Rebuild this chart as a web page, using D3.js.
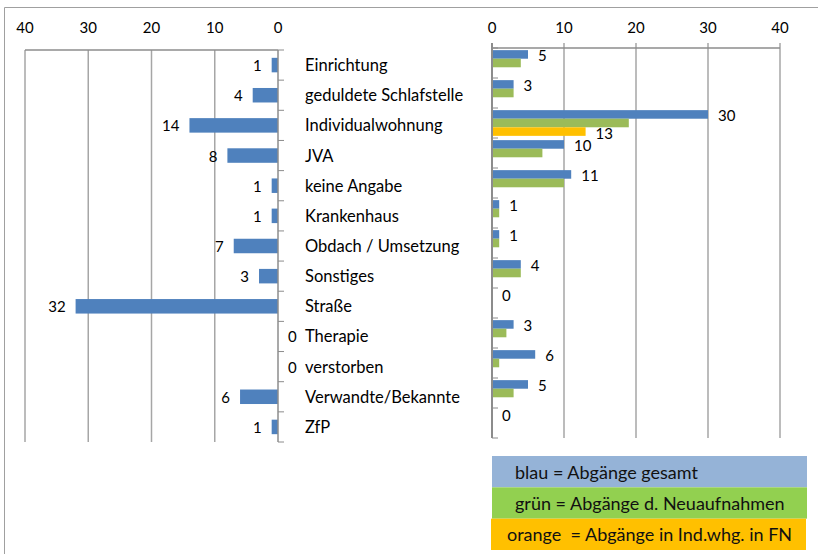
<!DOCTYPE html>
<html lang="de">
<head>
    <meta charset="UTF-8">
    <title>Abgänge</title>
    <script src="https://d3js.org/d3.v7.min.js"></script>
    <style>
        body { margin: 0; background: #fff; }
        svg { display: block; font-family: Lato, "Open Sans", sans-serif; }
    </style>
</head>
<body>
    <svg id="chart" width="818" height="554"></svg>
    <script>
        const categories = [
            "Einrichtung", "geduldete Schlafstelle", "Individualwohnung", "JVA",
            "keine Angabe", "Krankenhaus", "Obdach / Umsetzung", "Sonstiges",
            "Straße", "Therapie", "verstorben", "Verwandte/Bekannte", "ZfP"
        ];
        const leftValues = [1, 4, 14, 8, 1, 1, 7, 3, 32, 0, 0, 6, 1];
        const blauValues = [5, 3, 30, 10, 11, 1, 1, 4, 0, 3, 6, 5, 0];
        const gruenValues = [4, 3, 19, 7, 10, 1, 1, 4, 0, 2, 1, 3, 0];
        const orangeValues = [null, null, 13, null, null, null, null, null, null, null, null, null, null];
        const xTicks = [0, 10, 20, 30, 40];
        const legendLabels = [
            "blau = Abgänge gesamt",
            "grün = Abgänge d. Neuaufnahmen",
            "orange  = Abgänge in Ind.whg. in FN"
        ];

        const colors = { blau: "#4F81BD", gruen: "#9BBB59", orange: "#FFC000" };
        const legendColors = ["#95B3D7", "#92D050", "#FFC000"];
        const gridColor = "#A6A6A6";
        const axisColor = "#8C8C8C";

        const svg = d3.select("#chart");

        // outer frame (top + left edge)
        svg.append("path")
            .attr("d", "M4.5,554 V7.5 H818")
            .attr("fill", "none").attr("stroke", "#A0A0A0").attr("stroke-width", 1);

        // ---------- left chart (reversed axis) ----------
        const xL = d3.scaleLinear().domain([0, 40]).range([278, 25]);
        const yL = d3.scaleBand().domain(categories).range([50, 442]);
        const gL = svg.append("g");

        gL.selectAll(".gridL").data(xTicks.filter(d => d > 0)).join("line")
            .attr("x1", d => xL(d)).attr("x2", d => xL(d))
            .attr("y1", 50).attr("y2", 442)
            .attr("stroke", gridColor).attr("stroke-width", 1.5);
        gL.append("line").attr("x1", 25).attr("x2", 278).attr("y1", 50).attr("y2", 50)
            .attr("stroke", axisColor).attr("stroke-width", 1.5);
        gL.selectAll(".tickL").data(xTicks).join("text")
            .attr("x", d => xL(d)).attr("y", 27)
            .attr("text-anchor", "middle").attr("dominant-baseline", "central")
            .attr("font-size", 15).text(d => d);

        const barH = 14.5;
        gL.selectAll(".barL").data(categories).join("rect")
            .attr("x", (d, i) => xL(leftValues[i]))
            .attr("y", d => yL(d) + yL.bandwidth() / 2 - barH / 2)
            .attr("width", (d, i) => xL(0) - xL(leftValues[i]))
            .attr("height", barH)
            .attr("fill", colors.blau);

        // vertical axis with outward ticks
        gL.append("line").attr("x1", 278).attr("x2", 278).attr("y1", 50).attr("y2", 442)
            .attr("stroke", axisColor).attr("stroke-width", 1.5);
        gL.selectAll(".yTickL").data(d3.range(categories.length + 1)).join("line")
            .attr("x1", 278).attr("x2", 284)
            .attr("y1", i => 50 + i * yL.step()).attr("y2", i => 50 + i * yL.step())
            .attr("stroke", axisColor).attr("stroke-width", 1);

        gL.selectAll(".lblL").data(categories).join("text")
            .attr("x", (d, i) => leftValues[i] === 0 ? xL(0) + 10 : xL(leftValues[i]) - 10)
            .attr("y", d => yL(d) + yL.bandwidth() / 2)
            .attr("text-anchor", (d, i) => leftValues[i] === 0 ? "start" : "end")
            .attr("dominant-baseline", "central")
            .attr("font-size", 15)
            .text((d, i) => leftValues[i]);

        // category names
        svg.selectAll(".cat").data(categories).join("text")
            .attr("x", 305)
            .attr("y", d => yL(d) + yL.bandwidth() / 2)
            .attr("dominant-baseline", "central")
            .attr("font-size", 16.5)
            .text(d => d);

        // ---------- right chart ----------
        const xR = d3.scaleLinear().domain([0, 40]).range([492, 780]);
        const yR = d3.scaleBand().domain(categories).range([48, 438]);
        const series = [
            { key: "blau", values: blauValues },
            { key: "gruen", values: gruenValues },
            { key: "orange", values: orangeValues }
        ];
        const ySub = d3.scaleBand().domain(series.map(s => s.key))
            .range([0, yR.bandwidth()]).paddingOuter(0.25);
        const gR = svg.append("g");

        gR.selectAll(".gridR").data(xTicks.filter(d => d > 0)).join("line")
            .attr("x1", d => xR(d)).attr("x2", d => xR(d))
            .attr("y1", 43).attr("y2", 438)
            .attr("stroke", gridColor).attr("stroke-width", 1.5);
        gR.append("line").attr("x1", 492).attr("x2", 780).attr("y1", 48).attr("y2", 48)
            .attr("stroke", axisColor).attr("stroke-width", 1.5);
        gR.selectAll(".tickR").data(xTicks).join("text")
            .attr("x", d => xR(d)).attr("y", 27)
            .attr("text-anchor", "middle").attr("dominant-baseline", "central")
            .attr("font-size", 15).text(d => d);

        series.forEach(s => {
            const rows = categories.map((c, i) => ({ c, v: s.values[i] })).filter(d => d.v !== null);
            gR.selectAll(".bar-" + s.key).data(rows).join("rect")
                .attr("x", xR(0))
                .attr("y", d => yR(d.c) + ySub(s.key))
                .attr("width", d => xR(d.v) - xR(0))
                .attr("height", ySub.bandwidth())
                .attr("fill", colors[s.key]);
            if (s.key !== "gruen") {
                gR.selectAll(".lbl-" + s.key).data(rows).join("text")
                    .attr("x", d => xR(d.v) + 10)
                    .attr("y", d => yR(d.c) + ySub(s.key) + ySub.bandwidth() / 2 + 1)
                    .attr("dominant-baseline", "central")
                    .attr("font-size", 15)
                    .text(d => d.v);
            }
        });

        gR.append("line").attr("x1", 492).attr("x2", 492).attr("y1", 43).attr("y2", 438)
            .attr("stroke", axisColor).attr("stroke-width", 2);
        gR.selectAll(".yTickR").data(d3.range(categories.length + 1)).join("line")
            .attr("x1", 492).attr("x2", 498)
            .attr("y1", i => 48 + i * yR.step()).attr("y2", i => 48 + i * yR.step())
            .attr("stroke", axisColor).attr("stroke-width", 1);

        // ---------- legend boxes ----------
        const legend = svg.append("g");
        const boxY = d3.scaleBand().domain(d3.range(legendLabels.length)).range([456, 550]);
        legend.selectAll("rect").data(legendLabels).join("rect")
            .attr("x", (d, i) => i === 2 ? 491 : 492)
            .attr("y", (d, i) => boxY(i))
            .attr("width", 315)
            .attr("height", boxY.bandwidth())
            .attr("fill", (d, i) => legendColors[i]);
        legend.selectAll("text").data(legendLabels).join("text")
            .attr("x", (d, i) => i === 2 ? 507 : 515)
            .attr("y", (d, i) => boxY(i) + boxY.bandwidth() / 2)
            .attr("dominant-baseline", "central")
            .attr("font-size", 18)
            .attr("fill", "#111")
            .style("white-space", "pre")
            .text(d => d);
    </script>
</body>
</html>
